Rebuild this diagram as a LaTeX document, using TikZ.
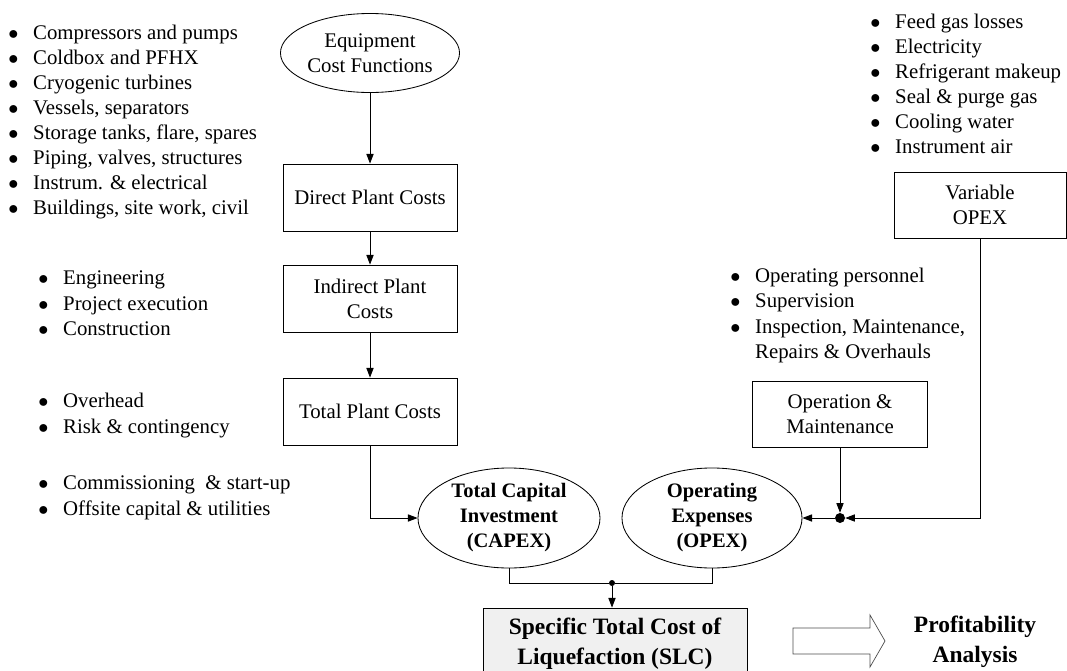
\documentclass[tikz,border=0pt]{standalone}
\usepackage{fontspec}
\setmainfont{Liberation Serif}
\usetikzlibrary{shapes.geometric,arrows.meta}

\newcommand\blist[1]{\begin{tabular}{@{}l@{\hspace{0.37cm}}l@{}}#1\end{tabular}}
\newcommand\bul{$\bullet$}

\begin{document}
\begin{tikzpicture}[x=0.025cm,y=-0.025cm,
    txt/.style={font=\fontsize{14.8}{17.8}\selectfont},
    box/.style={txt,draw,line width=0.6pt,inner sep=0pt,align=center,
        minimum width=4.35cm,minimum height=1.675cm},
    oval/.style={txt,draw,ellipse,line width=0.6pt,inner sep=0pt,align=center},
    dot/.style={circle,fill=black,inner sep=0pt,minimum size=#1},
    list/.style={txt,anchor=west,inner sep=0pt},
    flow/.style={line width=0.6pt,-{Triangle[length=0.24cm,width=0.18cm]}}]

    \clip (0,0) rectangle (1067,671);

    % left hand column
    \node[oval,minimum width=4.475cm,minimum height=1.975cm] (eqcost) at (370,53) {Equipment\\Cost Functions};
    \node[box] (direct) at (370,197.5) {Direct Plant Costs};
    \node[box] (indirect) at (370,298.5) {Indirect Plant\\Costs};
    \node[box] (total) at (370,411.5) {Total Plant Costs};

    \node[list] (equip) at (8,122) {\blist{
        \bul & Compressors and pumps\\
        \bul & Coldbox and PFHX\\
        \bul & Cryogenic turbines\\
        \bul & Vessels, separators\\
        \bul & Storage tanks, flare, spares\\
        \bul & Piping, valves, structures\\
        \bul & Instrum. \& electrical\\
        \bul & Buildings, site work, civil}};
    \node[list] (indir) at (38,305) {\blist{
        \bul & Engineering\\
        \bul & Project execution\\
        \bul & Construction}};
    \node[list] (overh) at (38,415.5) {\blist{
        \bul & Overhead\\
        \bul & Risk \& contingency}};
    \node[list] (comm) at (38,497.5) {\blist{
        \bul & Commissioning~ \& start-up\\
        \bul & Offsite capital \& utilities}};

    % right hand column
    \node[list] (varitems) at (870,86) {\blist{
        \bul & Feed gas losses\\
        \bul & Electricity\\
        \bul & Refrigerant makeup\\
        \bul & Seal \& purge gas\\
        \bul & Cooling water\\
        \bul & Instrument air}};
    \node[box,minimum width=4.3cm,minimum height=1.65cm] (varopex) at (980,205) {Variable\\OPEX};
    \node[list] (omitems) at (730,315.5) {\blist{
        \bul & Operating personnel\\
        \bul & Supervision\\
        \bul & Inspection, Maintenance,\\
             & Repairs \& Overhauls}};
    \node[box,minimum width=4.375cm,minimum height=1.65cm] (om) at (840,414) {Operation \&\\Maintenance};

    % totals
    \node[oval,font=\bfseries\fontsize{14.6}{17.8}\selectfont,minimum width=4.55cm,minimum height=2.5cm] (capex) at (509,518) {Total Capital\\Investment\\(CAPEX)};
    \node[oval,font=\bfseries\fontsize{14.6}{17.8}\selectfont,minimum width=4.5cm,minimum height=2.5cm] (opex) at (712,518) {Operating\\Expenses\\(OPEX)};
    \node[dot=0.25cm] (j1) at (840,518) {};
    \node[dot=0.15cm] (j2) at (612,583) {};

    \node[draw,fill=gray!12,line width=0.6pt,minimum width=6.6cm,minimum height=1.8cm,align=center,
        font=\bfseries\fontsize{16.7}{21.3}\selectfont] (slc) at (615,644) {Specific Total Cost of\\Liquefaction (SLC)};
    \node[align=center,font=\bfseries\fontsize{16.7}{21.3}\selectfont] (profit) at (975,642) {Profitability\\Analysis};
    \draw[line width=0.5pt,draw=black!70] (793,628) -- (870,628) -- (870,615) -- (885,641)
        -- (870,667) -- (870,654) -- (793,654) -- cycle;

    % connectors
    \draw[flow] (eqcost) -- (direct);
    \draw[flow] (direct) -- (indirect);
    \draw[flow] (indirect) -- (total);
    \draw[flow] (total.south) |- (capex.west);
    \draw[flow] (om.south) -- (j1);
    \draw[flow] (varopex.south) |- (j1);
    \draw[flow] (j1) -- (opex.east);
    \draw[line width=0.6pt] (capex.south) |- (j2) -| (opex.south);
    \draw[flow] (j2) -- (j2 |- slc.north);
\end{tikzpicture}
\end{document}
